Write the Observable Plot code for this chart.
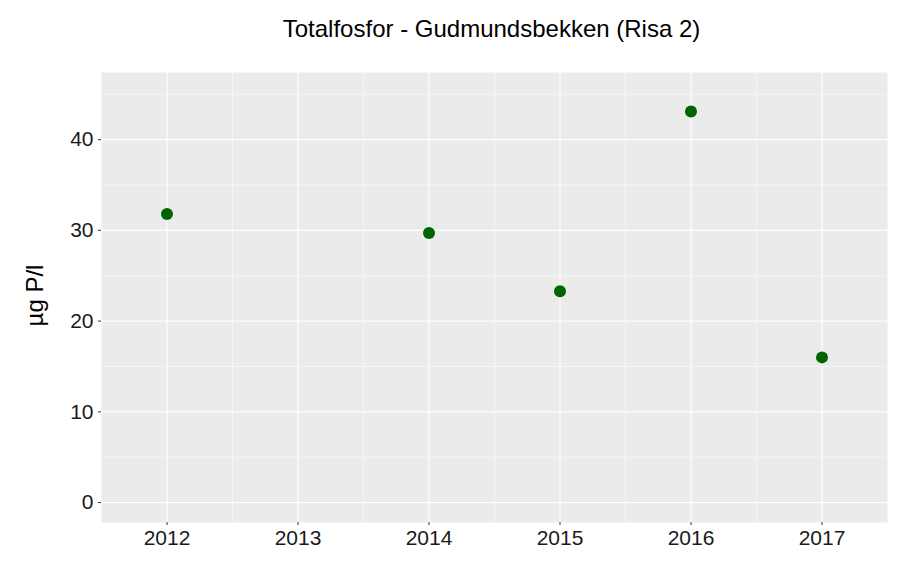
<!DOCTYPE html>
<html>
<head>
<meta charset="utf-8">
<script src="https://cdn.jsdelivr.net/npm/d3@7"></script>
<script src="https://cdn.jsdelivr.net/npm/@observablehq/plot@0.6"></script>
<style>
  html, body { margin: 0; padding: 0; background: #ffffff; }
  #chart svg { display: block; }
</style>
</head>
<body>
<div id="chart"></div>
<script>
const titleText = "Totalfosfor - Gudmundsbekken (Risa 2)";
const yLabel = "µg P/l";
const years = [2012, 2014, 2015, 2016, 2017];
const values = [31.8, 29.7, 23.3, 43.1, 16.0];
const xTicks = [2012, 2013, 2014, 2015, 2016, 2017];
const xMinor = [2012.5, 2013.5, 2014.5, 2015.5, 2016.5];
const yTicks = [0, 10, 20, 30, 40];
const yMinor = [5, 15, 25, 35, 45];

const data = years.map((y, i) => ({year: y, value: values[i]}));
const font = "'Liberation Sans', Arial, sans-serif";

const chart = Plot.plot({
  width: 907,
  height: 566,
  marginLeft: 101,
  marginRight: 20,
  marginTop: 72,
  marginBottom: 44,
  style: {fontFamily: font, background: "#ffffff", color: "#1a1a1a"},
  x: {domain: [2011.5, 2017.5]},
  y: {domain: [-2.2, 47.4]},
  marks: [
    Plot.frame({fill: "#EBEBEB", stroke: null}),
    Plot.ruleY(yMinor, {stroke: "#ffffff", strokeWidth: 0.55}),
    Plot.ruleX(xMinor, {stroke: "#ffffff", strokeWidth: 0.55}),
    Plot.ruleY(yTicks, {stroke: "#ffffff", strokeWidth: 1.1}),
    Plot.ruleX(xTicks, {stroke: "#ffffff", strokeWidth: 1.1}),
    Plot.axisX({ticks: xTicks, tickFormat: d => String(d), tickSize: 3, tickPadding: 5,
      stroke: "#333333", fill: "#1a1a1a", fontSize: 21, label: null}),
    Plot.axisY({ticks: yTicks, tickFormat: d => String(d), tickSize: 3, tickPadding: 5,
      stroke: "#333333", fill: "#1a1a1a", fontSize: 21, label: null}),
    Plot.dot(data, {x: "year", y: "value", r: 6, fill: "#006400", stroke: null}),
    Plot.text([titleText], {frameAnchor: "top", dy: -43, dx: -3, lineAnchor: "middle",
      fontSize: 24, fill: "#000000", text: d => d}),
    Plot.text([yLabel], {frameAnchor: "left", dx: -66, dy: -2, rotate: -90, lineAnchor: "middle",
      textAnchor: "middle", fontSize: 24, fill: "#000000", text: d => d})
  ]
});
document.getElementById("chart").appendChild(chart);
</script>
</body>
</html>
